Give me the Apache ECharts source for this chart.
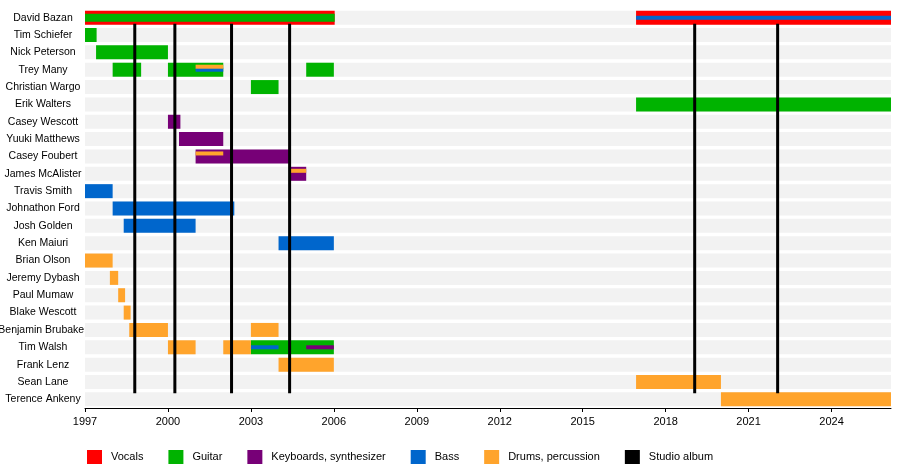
<!DOCTYPE html>
<html><head><meta charset="utf-8">
<script src="https://cdn.jsdelivr.net/npm/echarts@6/dist/echarts.min.js"></script>
<style>html,body{margin:0;background:#fff}#c{width:900px;height:466px}</style>
</head><body><div id="c"></div>
<script>
const members = ["David Bazan","Tim Schiefer","Nick Peterson","Trey Many","Christian Wargo","Erik Walters","Casey Wescott","Yuuki Matthews","Casey Foubert","James McAlister","Travis Smith","Johnathon Ford","Josh Golden","Ken Maiuri","Brian Olson","Jeremy Dybash","Paul Mumaw","Blake Wescott","Benjamin Brubaker","Tim Walsh","Frank Lenz","Sean Lane","Terence Ankeny"];
const xTicks = [1997,2000,2003,2006,2009,2012,2015,2018,2021,2024];
const END = 2026.15;
// [member, start, end, layer]  layer 0 = main bar, 1 = wide inner band, 2 = thin inner band
const vocals = [["David Bazan",1997,2006.03,0],["David Bazan",2016.93,END,0]];
const guitar = [["David Bazan",1997,2006.03,1],["Tim Schiefer",1997,1997.42,0],["Nick Peterson",1997.4,2000,0],
  ["Trey Many",1998,1999.03,0],["Trey Many",2000,2002,0],["Trey Many",2005,2006,0],["Christian Wargo",2003,2004,0],
  ["Erik Walters",2016.93,END,0],["Tim Walsh",2003,2006,0]];
const keys = [["Casey Wescott",2000,2000.45,0],["Yuuki Matthews",2000.4,2002,0],["Casey Foubert",2001,2004.4,0],
  ["James McAlister",2004.4,2005,0],["Tim Walsh",2005,2006,2]];
const bass = [["David Bazan",2016.93,END,2],["Travis Smith",1997,1998,0],["Johnathon Ford",1998,2002.4,0],
  ["Josh Golden",1998.4,2001,0],["Ken Maiuri",2004,2006,0],["Trey Many",2001,2002,2],["Tim Walsh",2003,2004,2]];
const drums = [["Brian Olson",1997,1998,0],["Jeremy Dybash",1997.9,1998.2,0],["Paul Mumaw",1998.2,1998.45,0],
  ["Blake Wescott",1998.4,1998.65,0],["Benjamin Brubaker",1998.6,2000,0],["Benjamin Brubaker",2003,2004,0],
  ["Tim Walsh",2000,2001,0],["Tim Walsh",2002,2003,0],["Frank Lenz",2004,2006,0],["Sean Lane",2016.93,2020,0],
  ["Terence Ankeny",2020,END,0],["Trey Many",2001,2002,3],["Casey Foubert",2001,2002,3],["James McAlister",2004.4,2005,3]];
const albums = [1998.8,2000.25,2002.3,2004.4,2019.05,2022.05];

const H = [14,8,4,4];
const OFF = [0,0,0,-3];
function rectSeries(name,color,data,z){
  return {type:'custom',name,z,itemStyle:{color},data:data.map(d=>[d[1],d[2],members.indexOf(d[0]),d[3]]),
    encode:{x:[0,1],y:2},
    renderItem:(p,api)=>{
      const a=api.coord([api.value(0),api.value(2)]), b=api.coord([api.value(1),api.value(2)]);
      const l=api.value(3), h=H[l];
      return {type:'rect',shape:{x:a[0],y:a[1]-h/2+OFF[l],width:b[0]-a[0],height:h},style:{fill:color}};
    }};
}
const bgSeries = {type:'custom',silent:true,z:1,data:members.map((m,i)=>[1997,END,i]),
  renderItem:(p,api)=>{const a=api.coord([1997,api.value(2)]),b=api.coord([END,api.value(2)]);
    return {type:'rect',shape:{x:a[0],y:a[1]-7,width:b[0]-a[0],height:14},style:{fill:'#f2f2f2'}};}};
const albumSeries = {type:'custom',name:'Studio album',z:10,itemStyle:{color:'#000'},data:albums.map(v=>[v]),
  renderItem:(p,api)=>{const a=api.coord([api.value(0),0]),b=api.coord([api.value(0),members.length-1]);
    return {type:'rect',shape:{x:a[0]-1.5,y:a[1]+6,width:3,height:b[1]-a[1]-12},style:{fill:'#000'}};}};

const chart = echarts.init(document.getElementById('c'));
chart.setOption({
  animation:false,
  grid:{left:85,right:9,top:9,bottom:58,containLabel:false,outerBoundsMode:'none'},
  xAxis:{type:'value',min:1997,max:END,interval:3,
    axisLine:{show:true,lineStyle:{color:'#000'}},axisTick:{show:true,length:4,lineStyle:{color:'#000'}},
    splitLine:{show:false},axisLabel:{color:'#000',fontSize:11,fontFamily:'Liberation Sans',
      formatter:v=>xTicks.includes(v)?String(v):'',showMaxLabel:false}},
  yAxis:{type:'category',data:members,inverse:true,
    axisLine:{show:false},axisTick:{show:false},
    axisLabel:{color:'#000',fontSize:10.5,fontFamily:'Liberation Sans',align:'center',margin:42}},
  legend:{left:82,top:445,itemWidth:15,itemHeight:14,itemGap:25,icon:'rect',
    textStyle:{fontSize:11,fontFamily:'Liberation Sans',color:'#000',padding:[0,0,0,4]},
    data:['Vocals','Guitar','Keyboards, synthesizer','Bass','Drums, percussion','Studio album']},
  series:[bgSeries,
    rectSeries('Vocals','#ff0000',vocals,2),
    rectSeries('Guitar','#00b300',guitar,3),
    rectSeries('Keyboards, synthesizer','#770077',keys,4),
    rectSeries('Bass','#0066cc',bass,5),
    rectSeries('Drums, percussion','#ffa42c',drums,6),
    albumSeries]
});
</script></body></html>
